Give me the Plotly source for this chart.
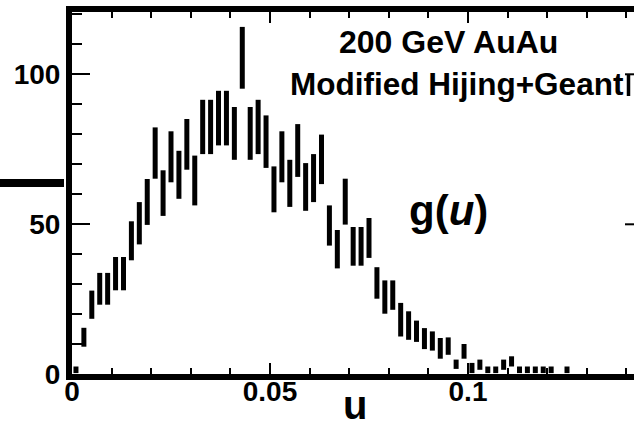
import plotly.graph_objects as go

# bin centres of u
u_centers = [0.001, 0.003, 0.005, 0.007, 0.009, 0.011, 0.013, 0.015, 0.017, 0.019,
             0.021, 0.023, 0.025, 0.027, 0.029, 0.031, 0.033, 0.035, 0.037, 0.039,
             0.041, 0.043, 0.045, 0.047, 0.049, 0.051, 0.053, 0.055, 0.057, 0.059,
             0.061, 0.063, 0.065, 0.067, 0.069, 0.071, 0.073, 0.075, 0.077, 0.079,
             0.081, 0.083, 0.085, 0.087, 0.089, 0.091, 0.093, 0.095, 0.097, 0.099,
             0.101, 0.103, 0.105, 0.107, 0.109, 0.111, 0.113, 0.115, 0.117, 0.119,
             0.121, 0.125]
# lower and upper ends of each error bar, g(u)
g_low = [0.3, 9.1, 18.4, 23.1, 23.1, 27.9, 27.9, 37.9, 43.2, 49.7,
         65.1, 52.7, 63.9, 58.4, 68.1, 56.2, 73.3, 73.3, 76.2, 76.2,
         71.4, 95.1, 71.4, 73.3, 68.7, 53.9, 63.9, 55.7, 65.7, 54.4,
         57.3, 63.3, 42.8, 35.2, 49.8, 36.1, 36.1, 38.7, 25.1, 20.1,
         21.4, 12.5, 11.4, 10.7, 8.3, 7.8, 5.1, 6.4, 1.7, 5.1,
         0.3, 1.4, 0.3, 0.3, 1.4, 2.5, 0.3, 0.3, 0.3, 0.3,
         0.3, 0.3]
g_high = [2.5, 15.4, 27.8, 33.7, 33.7, 39.0, 39.0, 50.9, 57.3, 65.0,
          82.2, 67.9, 80.9, 74.4, 85.0, 72.8, 91.4, 91.4, 94.4, 94.4,
          89.0, 115.7, 89.0, 91.4, 86.2, 69.2, 80.9, 71.4, 83.3, 70.3,
          73.3, 79.8, 56.2, 48.0, 65.1, 49.0, 49.0, 52.0, 35.6, 31.2,
          31.2, 23.7, 20.9, 17.8, 15.3, 14.2, 12.0, 12.2, 4.8, 10.0,
          3.7, 4.8, 2.5, 2.5, 4.8, 5.9, 2.5, 2.5, 2.5, 2.5,
          2.5, 2.5]

g_mid = [(a + b) / 2 for a, b in zip(g_low, g_high)]
g_err = [(b - a) / 2 for a, b in zip(g_low, g_high)]

W, H = 634, 429
ML, MR, MT, MB = 72, 0, 12, 55
PW, PH = W - ML - MR, H - MT - MB
XMAX = PW / 3960.0
YMAX = PH / 3.0


def px(x):
    return (x - ML) / PW


def py(y):
    return (H - MB - y) / PH


FONT = "Liberation Sans, Arial, Helvetica, sans-serif"

fig = go.Figure()
fig.add_trace(go.Scatter(
    x=u_centers, y=g_mid, mode="markers",
    marker=dict(size=1, color="rgba(0,0,0,0)"),
    error_y=dict(type="data", array=g_err, visible=True,
                 thickness=5, width=0, color="black"),
    showlegend=False, hoverinfo="skip", cliponaxis=False,
))

axis_common = dict(
    showgrid=False, zeroline=False, showline=True, linecolor="black",
    linewidth=6, ticks="inside", tickcolor="black", tickwidth=2,
    tickfont=dict(family=FONT, size=28, color="black", weight="bold"),
)

fig.update_xaxes(range=[0, XMAX], dtick=0.05, tick0=0, ticklen=11,
                 mirror="ticks", ticklabelstandoff=-13,
                 minor=dict(dtick=0.01, ticks="inside", ticklen=6,
                            tickwidth=2, tickcolor="black"),
                 **axis_common)
fig.update_yaxes(range=[0, YMAX], dtick=50, tick0=0, ticklen=18,
                 mirror=False,
                 minor=dict(dtick=10, ticks="inside", ticklen=10,
                            tickwidth=2, tickcolor="black"),
                 **axis_common)

shapes = [
    # thick stub at left
    dict(type="line", xref="paper", yref="paper", x0=px(0), x1=px(64),
         y0=py(183), y1=py(183), line=dict(color="black", width=8)),
    # partially visible right-axis ticks
    dict(type="line", xref="paper", yref="paper", x0=px(625), x1=px(634),
         y0=py(74.3), y1=py(74.3), line=dict(color="black", width=2)),
    dict(type="line", xref="paper", yref="paper", x0=px(625), x1=px(634),
         y0=py(224.3), y1=py(224.3), line=dict(color="black", width=2)),
    dict(type="line", xref="paper", yref="paper", x0=px(628.5), x1=px(628.5),
         y0=py(75), y1=py(96), line=dict(color="black", width=3.5)),
]

annotations = [
    dict(text="<b>200 GeV AuAu</b>", xref="paper", yref="paper",
         x=px(448), y=py(42), xanchor="center", yanchor="middle",
         showarrow=False, font=dict(family=FONT, size=32, color="black")),
    dict(text="<b>Modified Hijing+Geant</b>", xref="paper", yref="paper",
         x=px(288), y=py(84), xanchor="left", yanchor="middle",
         showarrow=False, font=dict(family=FONT, size=31.5, color="black")),
    dict(text="<b>g(<i>u</i>)</b>", xref="paper", yref="paper",
         x=px(407), y=py(210), xanchor="left", yanchor="middle",
         showarrow=False, font=dict(family=FONT, size=42, color="black")),
    dict(text="<b>u</b>", xref="paper", yref="paper",
         x=px(355), y=py(405), xanchor="center", yanchor="middle",
         showarrow=False, font=dict(family=FONT, size=40, color="black")),
]

fig.update_layout(
    width=W, height=H, margin=dict(l=ML, r=MR, t=MT, b=MB, pad=0),
    paper_bgcolor="white", plot_bgcolor="white",
    shapes=shapes, annotations=annotations,
)

fig.write_html("out.html")
